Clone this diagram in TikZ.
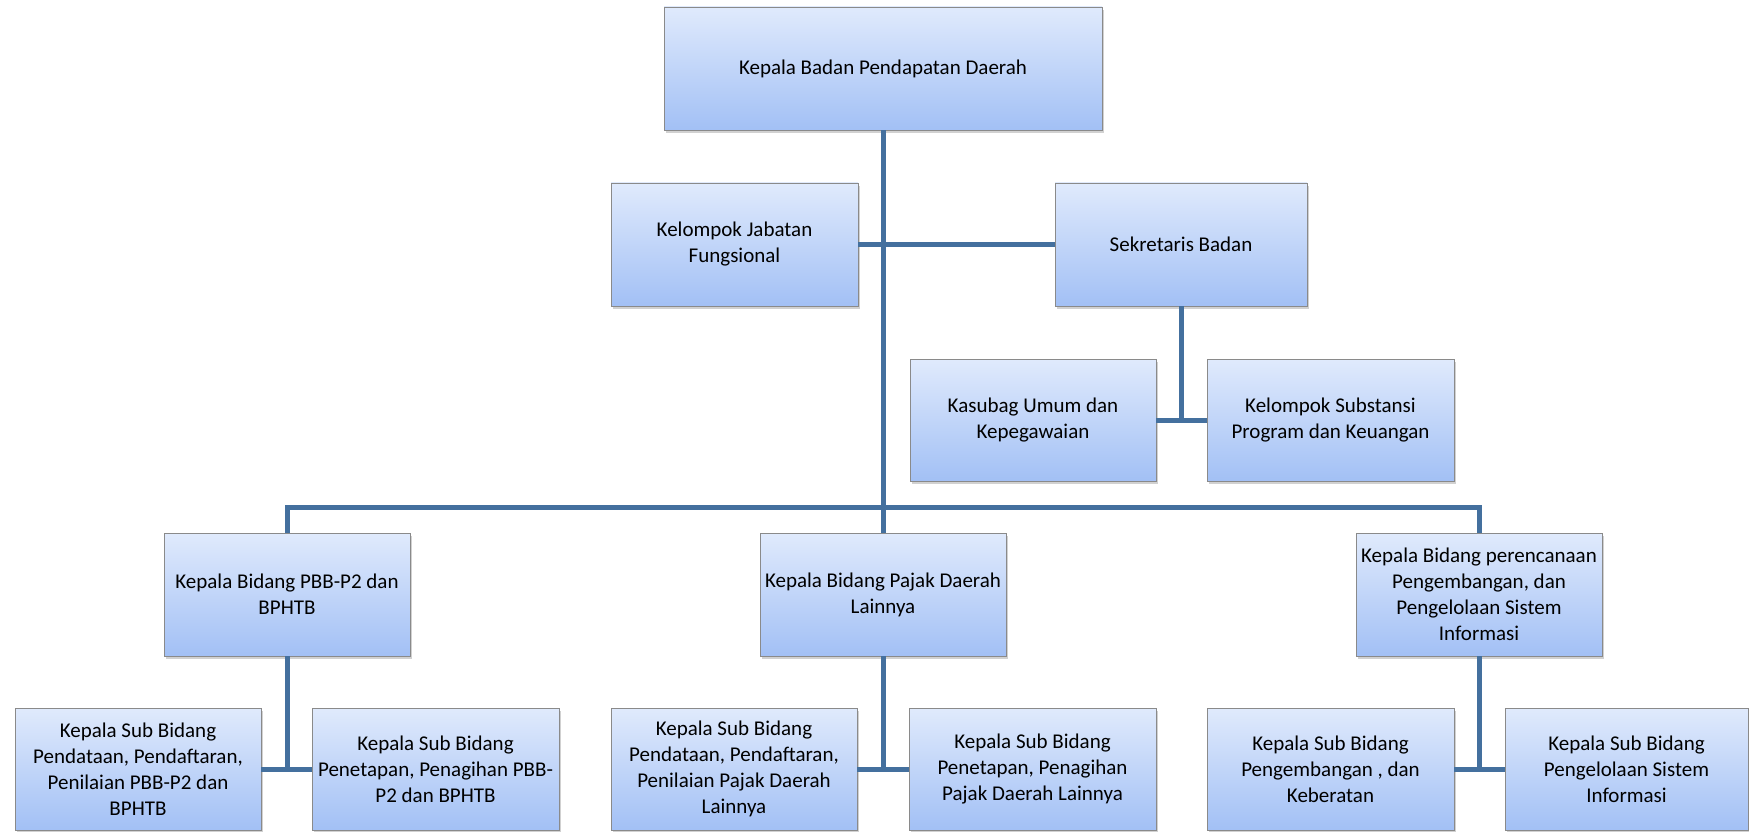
\documentclass[tikz,border=0pt]{standalone}
\usepackage{fontspec}
\setmainfont{Carlito}
\usetikzlibrary{shadows}
\definecolor{boxtop}{HTML}{E0EAFC}
\definecolor{boxbot}{HTML}{A2C0F5}
\definecolor{boxline}{HTML}{8A8A8A}
\definecolor{conn}{HTML}{44709E}
\tikzset{
  orgbox/.style={draw=boxline, line width=0.9pt, top color=boxtop, bottom color=boxbot,
    align=center, inner sep=1pt, font=\fontsize{21}{26}\selectfont,
    drop shadow={opacity=0.3, shadow xshift=2pt, shadow yshift=-3pt, fill=black!60}},
  wire/.style={draw=conn, line width=5pt}
}
\begin{document}
\begin{tikzpicture}[x=1pt, y=-1pt]
\useasboundingbox (0,0) rectangle (1749,832);
% top level
\node[orgbox, minimum width=438pt, minimum height=123pt] (top) at (883,68.5) {Kepala Badan Pendapatan Daerah};
% second level
\node[orgbox, minimum width=247pt, minimum height=123pt] (kel) at (734.5,244.5) {Kelompok Jabatan\\Fungsional};
\node[orgbox, minimum width=252pt, minimum height=123pt] (sek) at (1181,244.5) {Sekretaris Badan};
% secretariat units
\node[orgbox, minimum width=246pt, minimum height=122pt] (kas) at (1033,420) {Kasubag Umum dan\\Kepegawaian};
\node[orgbox, minimum width=247pt, minimum height=122pt] (sub) at (1330.5,420) {Kelompok Substansi\\Program dan Keuangan};
% bidang
\node[orgbox, minimum width=246pt, minimum height=123pt] (b1) at (287,594.5) {Kepala Bidang PBB-P2 dan\\BPHTB};
\node[orgbox, minimum width=246pt, minimum height=123pt] (b2) at (883,594.5) {Kepala Bidang Pajak Daerah\\Lainnya};
\node[orgbox, minimum width=246pt, minimum height=123pt] (b3) at (1479,594.5) {Kepala Bidang perencanaan\\Pengembangan, dan\\Pengelolaan Sistem\\Informasi};
% sub bidang
\node[orgbox, minimum width=246pt, minimum height=122pt] (s1) at (138,769) {Kepala Sub Bidang\\Pendataan, Pendaftaran,\\Penilaian PBB-P2 dan\\BPHTB};
\node[orgbox, minimum width=247pt, minimum height=122pt] (s2) at (435.5,769) {Kepala Sub Bidang\\Penetapan, Penagihan PBB-\\P2 dan BPHTB};
\node[orgbox, minimum width=246pt, minimum height=122pt] (s3) at (734,769) {Kepala Sub Bidang\\Pendataan, Pendaftaran,\\Penilaian Pajak Daerah\\Lainnya};
\node[orgbox, minimum width=247pt, minimum height=122pt] (s4) at (1032.5,769) {Kepala Sub Bidang\\Penetapan, Penagihan\\Pajak Daerah Lainnya};
\node[orgbox, minimum width=247pt, minimum height=122pt] (s5) at (1330.5,769) {Kepala Sub Bidang\\Pengembangan , dan\\Keberatan};
\node[orgbox, minimum width=243pt, minimum height=122pt] (s6) at (1626.5,769) {Kepala Sub Bidang\\Pengelolaan Sistem\\Informasi};
% connectors
\draw[wire] (top.south) -- (b2.north);
\draw[wire] (kel.east) -- (sek.west);
\draw[wire] (sek.south) -- (sek.south |- kas.east);
\draw[wire] (kas.east) -- (sub.west);
\draw[wire] (b1.north) -- ++(0,-25) -| (b3.north);
\draw[wire] (b1.south) -- (b1.south |- s1.east);
\draw[wire] (s1.east) -- (s2.west);
\draw[wire] (b2.south) -- (b2.south |- s3.east);
\draw[wire] (s3.east) -- (s4.west);
\draw[wire] (b3.south) -- (b3.south |- s5.east);
\draw[wire] (s5.east) -- (s6.west);
\end{tikzpicture}
\end{document}
